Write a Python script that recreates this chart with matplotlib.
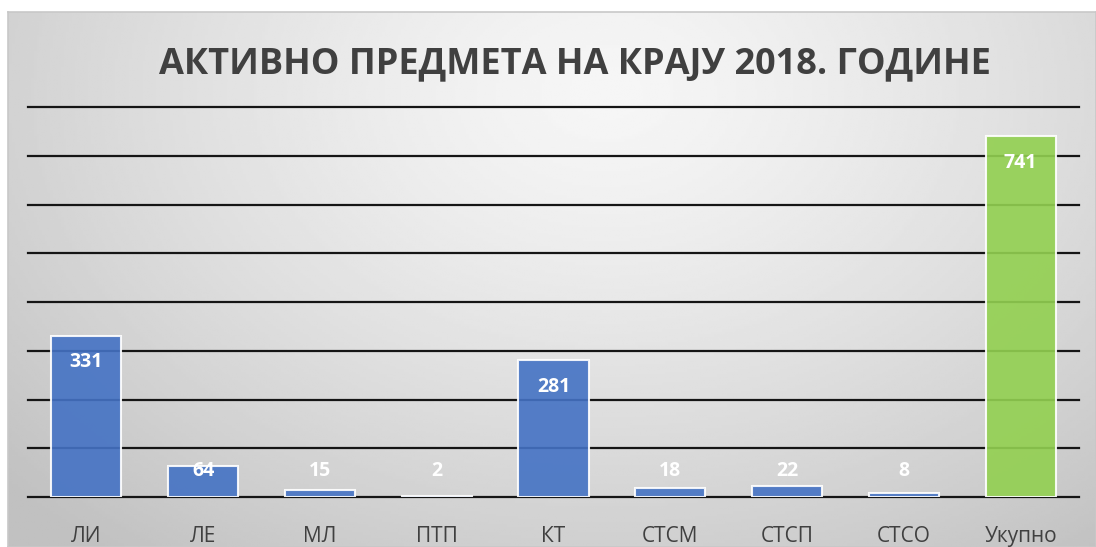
from matplotlib import pyplot as plt
import numpy as np

categories = ['ЛИ', 'ЛЕ', 'МЛ', 'ПТП', 'КТ', 'СТСМ', 'СТСП', 'СТСО', 'Укупно']
values = [331, 64, 15, 2, 281, 18, 22, 8, 741]
title = 'АКТИВНО ПРЕДМЕТА НА КРАЈУ 2018. ГОДИНЕ'

plt.rcParams['font.family'] = ['Open Sans', 'DejaVu Sans']

fig = plt.figure(figsize=(10.96, 5.47), dpi=100)

# gradient background of the chart frame
bg = fig.add_axes([8/1096, 0, 1 - 8/1096, 1 - 12/547])
bg.set_xticks([])
bg.set_yticks([])
for s in bg.spines.values():
    s.set_color('#c8c8c8')
    s.set_linewidth(1.2)
gx, gy = np.meshgrid(np.linspace(0, 1, 400), np.linspace(0, 1, 200))
r = np.sqrt(((gx - 0.55) / 0.75) ** 2 + ((gy - 0.15) / 1.1) ** 2)
r = np.clip(r, 0, 1)
shade = 0.965 - 0.21 * r ** 1.3
bg.imshow(shade, cmap='gray', vmin=0, vmax=1, aspect='auto', extent=[0, 1, 1, 0])
bg.set_xlim(0, 1)
bg.set_ylim(1, 0)

ax = fig.add_axes([28/1096, (547-497)/547, (1079-28)/1096, (497-107)/547])
ax.patch.set_alpha(0)
x = np.arange(len(categories))
colors = ['#4472C4'] * (len(categories) - 1) + ['#92D050']
ax.bar(x, values, width=0.6, color=colors, alpha=0.9, edgecolor='white', linewidth=1.5, zorder=2)

ax.set_xlim(-0.5, len(categories) - 0.5)
ax.set_ylim(0, 800)
ax.set_yticks(np.arange(0, 801, 100))
ax.yaxis.grid(True, color='#151515', linewidth=1.6, zorder=0)
for gl in ax.get_ygridlines():
    gl.set_clip_on(False)
ax.set_axisbelow(True)
ax.tick_params(axis='y', left=False, labelleft=False)
ax.tick_params(axis='x', length=0, pad=21, labelsize=15, labelcolor='#404040')
ax.set_xticks(x)
ax.set_xticklabels(categories)
for s in ax.spines.values():
    s.set_visible(False)

for xi, v in zip(x, values):
    ax.text(xi, max(v - 55, 54), str(v), ha='center', va='center', color='white',
            fontsize=14, fontweight='bold', zorder=3)

fig.text(0.5246, 1 - 64/547, title, ha='center', va='center', fontsize=26,
         fontweight='bold', color='#404040')

fig.savefig('out.png', dpi=100)
